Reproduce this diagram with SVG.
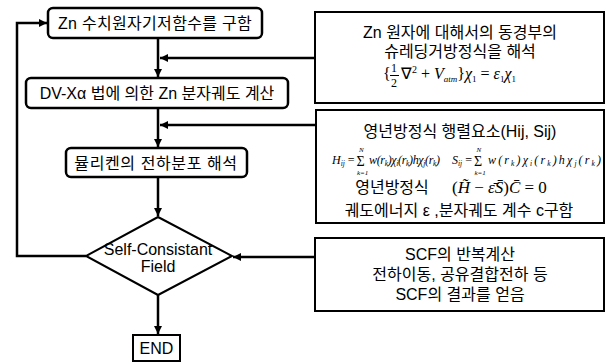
<svg xmlns="http://www.w3.org/2000/svg" width="611" height="363" viewBox="0 0 611 363">
<defs>
<marker id="ah" viewBox="0 0 10 10" refX="10" refY="5" markerWidth="3.6" markerHeight="3.2" orient="auto" markerUnits="strokeWidth">
<path d="M0,0 L10,5 L0,10 z" fill="#000"/>
</marker>
<style>
.k{font-family:"Liberation Sans","Noto Sans CJK KR",sans-serif;font-size:16px;fill:#000;text-anchor:middle}
.r{font-size:16px}
.m{font-family:"Liberation Serif","Times New Roman",serif;font-style:italic;fill:#000}
.up{font-style:normal}
.box{fill:#fff;stroke:#000;stroke-width:2.5}
.rb{fill:#fff;stroke:#000;stroke-width:2}
.ln{fill:none;stroke:#000;stroke-width:2.5}
.ar{fill:none;stroke:#000;stroke-width:2.5;marker-end:url(#ah)}
</style>
</defs>
<rect width="611" height="363" fill="#fff"/>
<g id="connectors">
<path class="ar" d="M158,38 V77"/>
<path class="ar" d="M158,108 V147"/>
<path class="ar" d="M158,177 V216"/>
<path class="ar" d="M158,295 V334"/>
<path class="ar" d="M86,256 H17 V23 H47"/>
<path class="ar" d="M315,58 H160"/>
<path class="ar" d="M316,125 H160"/>
<path class="ar" d="M315,257 H233"/>
</g>
<g id="n1">
<rect class="box" x="48" y="8" width="214" height="30" rx="5"/>
<text class="k" x="155" y="29" letter-spacing="0.3">Zn 수치원자기저함수를 구함</text>
</g>
<g id="n2">
<rect class="box" x="26" y="78" width="262" height="30" rx="5"/>
<text class="k" x="157" y="99">DV-Xα 법에 의한 Zn 분자궤도 계산</text>
</g>
<g id="n3">
<rect class="box" x="66" y="148" width="181" height="29" rx="5"/>
<text class="k" x="156" y="168.5" letter-spacing="0.6">뮬리켄의 전하분포 해석</text>
</g>
<g id="n4">
<path class="rb" d="M158,217 L232,256 L158,295 L86,256 Z"/>
<text class="k" x="158" y="255" font-size="15">Self-Consistant</text>
<text class="k" x="158" y="272" font-size="15">Field</text>
</g>
<g id="n5">
<rect class="rb" x="133" y="335" width="47" height="26"/>
<text class="k" x="156.5" y="353.5" font-size="15">END</text>
</g>
<g id="r1">
<rect class="rb" x="315" y="12" width="289" height="91"/>
<text class="k r" x="460" y="38">Zn 원자에 대해서의 동경부의</text>
<text class="k r" x="460" y="57">슈레딩거방정식을 해석</text>
<text class="m up" x="383" y="79" font-size="16">{</text>
<text class="m up" x="391" y="72" font-size="12">1</text>
<line x1="390" y1="75.5" x2="399" y2="75.5" stroke="#000" stroke-width="1"/>
<text class="m up" x="391" y="87" font-size="12">2</text>
<text class="m" x="401" y="79" font-size="16"><tspan class="up">∇</tspan><tspan class="up" font-size="10" dy="-6">2</tspan><tspan class="up" dy="6"> + </tspan>V<tspan font-size="9" dy="3">atm</tspan><tspan class="up" dy="-3">}</tspan>χ<tspan class="up" font-size="9" dy="3">1</tspan><tspan class="up" dy="-3"> = </tspan>ε<tspan class="up" font-size="9" dy="3">1</tspan><tspan dy="-3">χ</tspan><tspan class="up" font-size="9" dy="3">1</tspan></text>
</g>
<g id="r2">
<rect class="rb" x="316" y="110" width="288" height="113"/>
<text class="k r" x="460" y="137">영년방정식 행렬요소(Hij, Sij)</text>
<text class="m" x="332" y="164" font-size="12">H<tspan font-size="7.5" dy="2">ij</tspan><tspan class="up" dy="-2"> = </tspan></text>
<text class="m up" x="356.5" y="166" font-size="14">Σ</text>
<text class="m" x="359" y="152" font-size="7">N</text>
<text class="m" x="357" y="175" font-size="7">k=1</text>
<text class="m" x="369" y="164" font-size="12" textLength="71" lengthAdjust="spacing">w(r<tspan font-size="7.5" dy="2">k</tspan><tspan dy="-2">)χ</tspan><tspan font-size="7.5" dy="2">i</tspan><tspan dy="-2">(r</tspan><tspan font-size="7.5" dy="2">k</tspan><tspan dy="-2">)hχ</tspan><tspan font-size="7.5" dy="2">j</tspan><tspan dy="-2">(r</tspan><tspan font-size="7.5" dy="2">k</tspan><tspan dy="-2">)</tspan></text>
<text class="m" x="452" y="164" font-size="12">S<tspan font-size="7.5" dy="2">ij</tspan><tspan class="up" dy="-2"> = </tspan></text>
<text class="m up" x="474" y="166" font-size="14">Σ</text>
<text class="m" x="476.5" y="152" font-size="7">N</text>
<text class="m" x="474.5" y="175" font-size="7">k=1</text>
<text class="m" x="488" y="164" font-size="12" textLength="113" lengthAdjust="spacing">w(r<tspan font-size="7.5" dy="2">k</tspan><tspan dy="-2">)χ</tspan><tspan font-size="7.5" dy="2">i</tspan><tspan dy="-2">(r</tspan><tspan font-size="7.5" dy="2">k</tspan><tspan dy="-2">)hχ</tspan><tspan font-size="7.5" dy="2">j</tspan><tspan dy="-2">(r</tspan><tspan font-size="7.5" dy="2">k</tspan><tspan dy="-2">)</tspan></text>
<text class="k r" x="392" y="193">영년방정식</text>
<text class="m" x="452" y="193" font-size="17"><tspan class="up">(</tspan>H̃<tspan class="up"> − </tspan>ε̄S̄<tspan class="up">)</tspan>C̄<tspan class="up"> = 0</tspan></text>
<text class="k r" x="459" y="216">궤도에너지 ε ,분자궤도 계수 c구함</text>
</g>
<g id="r3">
<rect class="rb" x="315" y="238" width="289" height="73"/>
<text class="k r" x="460" y="260">SCF의 반복계산</text>
<text class="k r" x="460" y="280">전하이동, 공유결합전하 등</text>
<text class="k r" x="460" y="300">SCF의 결과를 얻음</text>
</g>
</svg>
